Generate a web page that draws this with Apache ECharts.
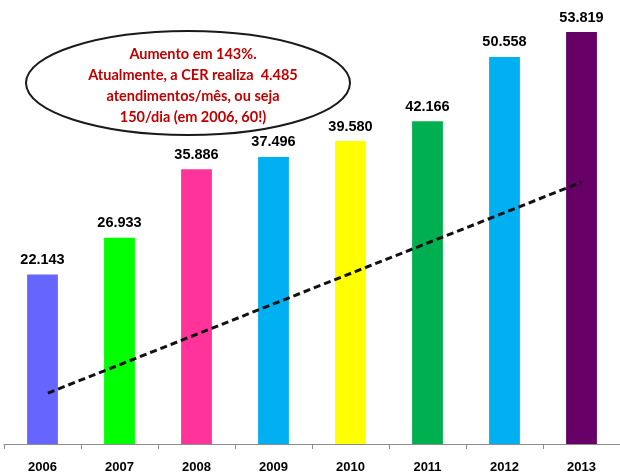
<!DOCTYPE html>
<html>
<head>
<meta charset="utf-8">
<script src="https://cdn.jsdelivr.net/npm/echarts@6/dist/echarts.min.js"></script>
<style>
  html, body { margin: 0; padding: 0; background: #fff; }
  #chart { width: 620px; height: 476px; }
</style>
</head>
<body>
<div id="chart"></div>
<script>
// Atendimentos por ano
const years = ['2006', '2007', '2008', '2009', '2010', '2011', '2012', '2013'];
const attendances = [22143, 26933, 35886, 37496, 39580, 42166, 50558, 53819];
const barColors = ['#6666FF', '#00FF00', '#FF3399', '#00B0F0', '#FFFF00', '#00B050', '#00B0F0', '#660066'];

// Linha de tendência desenhada (posição no eixo de categorias, valor)
const trendX = [0.07, 7.0];
const trendY = [6650, 34200];

// Texto do balão
const noteLines = [
  'Aumento em 143%.',
  'Atualmente, a CER realiza  4.485',
  'atendimentos/mês, ou seja',
  '150/dia (em 2006, 60!)'
];

const fmt = v => v.toLocaleString('de-DE');

const chart = echarts.init(document.getElementById('chart'), null, { renderer: 'canvas' });

chart.setOption({
  backgroundColor: '#ffffff',
  animation: false,
  grid: { left: 4, right: -3, top: 0, bottom: 32, containLabel: false },
  xAxis: [
    {
      type: 'category',
      data: years,
      axisLine: { lineStyle: { color: '#8c8c8c', width: 1 } },
      axisTick: { show: true, length: 5, lineStyle: { color: '#8c8c8c' } },
      axisLabel: {
        margin: 17,
        color: '#000',
        fontFamily: 'Liberation Sans',
        fontWeight: 'bold',
        fontSize: 13
      }
    },
    {
      type: 'value',
      min: -0.5,
      max: 7.5,
      show: false
    }
  ],
  yAxis: {
    type: 'value',
    min: 0,
    max: 58000,
    show: false,
    splitLine: { show: false }
  },
  series: [
    {
      type: 'bar',
      xAxisIndex: 0,
      data: attendances.map((v, i) => ({ value: v, itemStyle: { color: barColors[i] } })),
      barWidth: '40%',
      label: {
        show: true,
        position: 'top',
        distance: 7,
        formatter: p => fmt(p.value),
        color: '#000',
        fontFamily: 'Liberation Sans',
        fontWeight: 'bold',
        fontSize: 14.5
      }
    },
    {
      type: 'line',
      xAxisIndex: 1,
      data: trendX.map((x, i) => [x, trendY[i]]),
      symbol: 'none',
      lineStyle: { color: '#111', width: 3, type: [7, 4] },
      z: 5
    }
  ],
  graphic: [
    {
      type: 'ellipse',
      shape: { cx: 188, cy: 83, rx: 162, ry: 52 },
      style: { fill: '#ffffff', stroke: '#1a1a1a', lineWidth: 2 },
      z: 10
    },
    {
      type: 'text',
      x: 193,
      y: 44,
      z: 11,
      style: {
        text: noteLines.join('\n'),
        align: 'center',
        verticalAlign: 'top',
        fill: '#C00000',
        fontFamily: 'Lato',
        fontWeight: 'bold',
        fontSize: 14.5,
        lineHeight: 21
      }
    }
  ]
});
</script>
</body>
</html>
